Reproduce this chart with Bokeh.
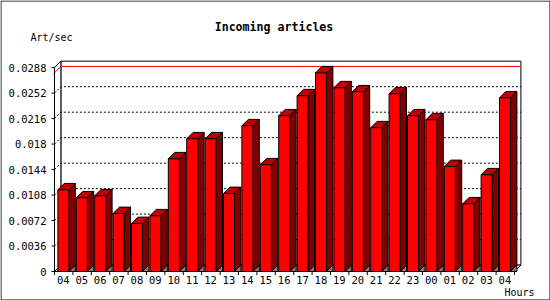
from bokeh.plotting import figure
from bokeh.models import Range1d, ColumnDataSource
from bokeh.core.properties import value
from bokeh.embed import file_html
from bokeh.resources import INLINE

# ---- data ----
hours = ["04", "05", "06", "07", "08", "09", "10", "11", "12", "13", "14", "15", "16",
         "17", "18", "19", "20", "21", "22", "23", "00", "01", "02", "03", "04"]
values = [0.01154, 0.01041, 0.01069, 0.00819, 0.00678, 0.00787, 0.01592, 0.01874, 0.01874,
          0.01102, 0.02058, 0.01507, 0.02199, 0.02482, 0.02806, 0.02595, 0.02538, 0.02030,
          0.02510, 0.02199, 0.02143, 0.01483, 0.00956, 0.01366, 0.02453]
yticks = [0.0, 0.0036, 0.0072, 0.0108, 0.0144, 0.018, 0.0216, 0.0252, 0.0288]
ytick_labels = ["0", "0.0036", "0.0072", "0.0108", "0.0144", "0.018", "0.0216", "0.0252", "0.0288"]
title_text = "Incoming articles"
y_title = "Art/sec"
x_title = "Hours"

# ---- geometry (pixel scale helpers) ----
PITCH = 18.4          # px per category
PPU = 7080.0          # px per y unit
X0, Y0 = 54.0, 271.0  # pixel of data origin
W, H = 550, 300

def xd(px):
    return (px - X0) / PITCH

def yd(py):
    return (Y0 - py) / PPU

DEPTH = 6.4
DX = DEPTH / PITCH
DY = DEPTH / PPU
N = len(values)
YTOP = yticks[-1]
BL, BW = 0.185, 0.598   # bar left offset and width in category units

p = figure(width=W, height=H, output_backend="svg", toolbar_location=None,
           x_range=Range1d(xd(0), xd(W)), y_range=Range1d(yd(H), yd(0)),
           x_axis_location=None, y_axis_location=None,
           min_border_left=0, min_border_right=0, min_border_top=0,
           min_border_bottom=0)
p.border_fill_color = "white"
p.background_fill_color = "white"
p.outline_line_color = None
p.xgrid.visible = False
p.ygrid.visible = False

font = value("DejaVu Sans Mono")

# outer border
p.quad(left=[xd(0.5)], right=[xd(W - 0.5)], bottom=[yd(H - 0.5)], top=[yd(0.5)],
       fill_color=None, line_color="black", line_width=1)

# back plane, left wall, floor
p.quad(left=[DX], right=[N + DX], bottom=[DY], top=[YTOP + DY],
       fill_color="white", line_color="black", line_width=1)
p.patch([0, DX, DX, 0], [0, DY, YTOP + DY, YTOP], fill_color="white",
        line_color="black", line_width=1)
p.patch([0, N, N + DX, DX], [0, 0, DY, DY], fill_color="white",
        line_color="black", line_width=1)

# grid lines
gx, gy = [], []
for t in yticks[1:-1]:
    gx.append([0, DX, N + DX])
    gy.append([t, t + DY, t + DY])
p.multi_line(gx, gy, line_color="black", line_dash="2 2", line_width=1)

# max line
vmax = max(values)
p.line([-0.05, DX, N + DX], [vmax - 0.05 * DY / DX, vmax + DY, vmax + DY],
       line_color="red", line_width=1)

# bars
lefts = [i + BL for i in range(N)]
rights = [i + BL + BW for i in range(N)]
src = ColumnDataSource(dict(left=lefts, right=rights, top=values, bottom=[0] * N))

top_xs = [[l, r, r + DX, l + DX] for l, r in zip(lefts, rights)]
top_ys = [[v, v, v + DY, v + DY] for v in values]
side_xs = [[r, r + DX, r + DX, r] for r in rights]
side_ys = [[0, DY, v + DY, v] for v in values]
tri_xs = [[r, r + DX, r + DX] for r in rights]
tri_ys = [[0, DY, 0] for _ in values]

p.patches(tri_xs, tri_ys, fill_color="#808080", line_color="black", line_width=1)
p.patches(side_xs, side_ys, fill_color="#800000", line_color="black", line_width=1)
p.patches(top_xs, top_ys, fill_color="#c00000", line_color="black", line_width=1)
p.quad(source=src, left="left", right="right", top="top", bottom="bottom",
       fill_color="#ff0000", line_color="black", line_width=1)

# front axis lines
p.line([0, 0], [0, YTOP], line_color="black", line_width=1)
p.line([0, N], [0, 0], line_color="black", line_width=1)

# y ticks and labels
p.segment(x0=[xd(51)] * len(yticks), y0=yticks, x1=[0] * len(yticks), y1=yticks,
          line_color="black", line_width=1)
p.text(x=[xd(46)] * len(yticks), y=yticks, text=ytick_labels, text_align="right",
       text_baseline="middle", text_font=font, text_font_size="10.5px",
       text_color="black")

# x ticks and labels
xt = list(range(N + 1))
p.segment(x0=xt, y0=[0] * len(xt), x1=xt, y1=[yd(274.5)] * len(xt),
          line_color="black", line_width=1)
p.text(x=[i + 0.48 for i in range(N)], y=[yd(275)] * N, text=hours, text_align="center",
       text_baseline="top", text_font=font, text_font_size="10.5px", text_color="black")

# titles
p.text(x=[xd(273.5)], y=[yd(26.7)], text=[title_text], text_align="center",
       text_baseline="middle", text_font=font, text_font_style="bold",
       text_font_size="11.6px", text_color="black")
p.text(x=[xd(30)], y=[yd(36.7)], text=[y_title], text_align="left",
       text_baseline="middle", text_font=font, text_font_size="10px", text_color="black")
p.text(x=[xd(504)], y=[yd(291.7)], text=[x_title], text_align="left",
       text_baseline="middle", text_font=font, text_font_size="10px", text_color="black")

open("out.html", "w").write(file_html(p, INLINE))
